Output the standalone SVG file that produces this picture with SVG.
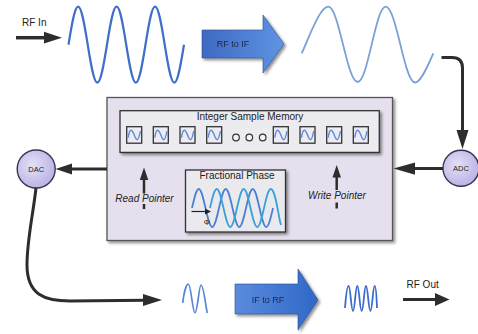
<svg xmlns="http://www.w3.org/2000/svg" xmlns:xlink="http://www.w3.org/1999/xlink" width="478" height="334" viewBox="0 0 478 334">
<defs>
<style>
text{font-family:"Liberation Sans",Arial,sans-serif;fill:#222}
.lbl{font-size:10px}
.arr{font-size:9px;fill:#1c2550;text-anchor:middle}
.ptr{font-size:10px;font-style:italic}
.conv{font-size:7.5px;text-anchor:middle}
.wire{fill:none;stroke:#2b2e2b;stroke-width:3}
.head{fill:#2b2e2b}
.box{stroke:#333;stroke-width:1.3}
.cellw{fill:none;stroke:#5b8ad6;stroke-width:1.4}
</style>
<linearGradient id="gRF" x1="0" y1="0" x2="1" y2="0">
<stop offset="0" stop-color="#3e69c2"/><stop offset="1" stop-color="#5e94e2"/>
</linearGradient>
<linearGradient id="gIF" x1="0" y1="0" x2="1" y2="0">
<stop offset="0" stop-color="#5a8bdc"/><stop offset="1" stop-color="#2f68c8"/>
</linearGradient>
<radialGradient id="gConv" cx="0.4" cy="0.4" r="0.65">
<stop offset="0" stop-color="#e4e0f8"/><stop offset="1" stop-color="#b9b0e2"/>
</radialGradient>
<filter id="sh" x="-10%" y="-10%" width="130%" height="130%">
<feGaussianBlur in="SourceAlpha" stdDeviation="1.6"/>
<feOffset dx="1.5" dy="2" result="o"/>
<feComponentTransfer><feFuncA type="linear" slope="0.45"/></feComponentTransfer>
<feMerge><feMergeNode/><feMergeNode in="SourceGraphic"/></feMerge>
</filter>
<g id="cell">
<rect x="0" y="0" width="15" height="16.5" fill="#ececf2" class="box"/>
<path class="cellw" d="M1.5,11 C2.2,5.5 3.2,3.5 4.3,3.5 C5.6,3.5 6.6,6 7.5,8.2 C8.4,10.5 9.3,13 10.5,13 C11.8,13 13,8 13.7,4.5"/>
</g>
</defs>
<rect width="478" height="334" fill="#ffffff"/>

<g id="rf-in">
<text class="lbl" x="22" y="25.5">RF In</text>
</g>

<g id="wave-rf">
<path fill="none" stroke="#3f6fc8" stroke-width="2.2" d="M68.5,44.7 C71.6,25.7 74.6,6.7 78.1,6.7 C85.1,6.7 90.35,82.7 97.35,82.7 C104.35,82.7 109.6,6.7 116.6,6.7 C123.6,6.7 128.85,82.7 135.85,82.7 C142.85,82.7 148.1,6.7 155.1,6.7 C162.1,6.7 167.35,82.7 174.35,82.7 C177.85,82.7 180.9,63.7 184,44.7"/>
</g>

<g id="rf-to-if" filter="url(#sh)">
<path fill="url(#gRF)" stroke="#2f4f8f" stroke-width="0.6" d="M202,30 L263,30 L263,15 L284,44 L263,73 L263,58 L202,58 Z"/>
<text class="arr" x="233" y="47">RF to IF</text>
</g>

<g id="wave-if">
<path fill="none" stroke="#7aa0d8" stroke-width="1.8" d="M301.7,53.3 C310,35 320,6.7 328.3,6.7 C339,6.7 347,82 357.7,82 C367.9,82 375.5,6.7 385.7,6.7 C396.4,6.7 404.3,82.5 415,82.5 C421,82.5 428,65 433.3,53.3"/>
</g>

<g id="memory">
<rect x="107" y="97.5" width="285.5" height="143" fill="#e6e0ee" stroke="#555" stroke-width="1.3" filter="url(#sh)"/>
</g>

<g id="sample-memory">
<rect x="120" y="110.7" width="259.3" height="41.7" fill="#ececf0" class="box" filter="url(#sh)"/>
<text class="lbl" x="250" y="120" text-anchor="middle">Integer Sample Memory</text>
<use xlink:href="#cell" x="126.7" y="126.7"/>
<use xlink:href="#cell" x="153.3" y="126.7"/>
<use xlink:href="#cell" x="180" y="126.7"/>
<use xlink:href="#cell" x="206.7" y="126.7"/>
<circle cx="236" cy="137.5" r="3.3" fill="#f4f4f6" stroke="#333" stroke-width="1.2"/>
<circle cx="249.3" cy="137.5" r="3.3" fill="#f4f4f6" stroke="#333" stroke-width="1.2"/>
<circle cx="262.7" cy="137.5" r="3.3" fill="#f4f4f6" stroke="#333" stroke-width="1.2"/>
<use xlink:href="#cell" x="273.3" y="126.7"/>
<use xlink:href="#cell" x="300" y="126.7"/>
<use xlink:href="#cell" x="326.7" y="126.7"/>
<use xlink:href="#cell" x="353.3" y="126.7"/>
</g>

<g id="fractional-phase">
<rect x="185.5" y="170" width="100" height="62" fill="#e9e9ee" class="box" filter="url(#sh)"/>
<text class="lbl" x="237" y="179" text-anchor="middle">Fractional Phase</text>
<path fill="none" stroke="#4b80d0" stroke-width="1.8" d="M192,208 C194.15,198.5 196.29,189 198.75,189 C203.67,189 207.33,227 212.25,227 C217.17,227 220.83,189 225.75,189 C230.67,189 234.33,227 239.25,227 C244.17,227 247.83,189 252.75,189 C257.67,189 261.33,227 266.25,227 C268.71,227 270.85,217.5 273,208"/>
<path fill="none" stroke="#3aa0d8" stroke-width="1.8" d="M210,208 C212.15,198.5 214.29,189 216.75,189 C221.67,189 225.33,227 230.25,227 C235.17,227 238.83,189 243.75,189 C248.67,189 252.33,227 257.25,227 C262.17,227 265.83,189 270.75,189 C275.67,189 278.5,218 281,225"/>
<path fill="none" stroke="#222" stroke-width="1.2" d="M191.5,211.5 L206,211.5"/>
<path fill="#222" d="M205,208.5 L211,211.5 L205,214.5 Z"/>
<text x="207" y="224.5" style="font-size:8px" text-anchor="middle">Φ</text>
</g>

<g id="read-pointer">
<text class="ptr" x="144.5" y="201.5" text-anchor="middle">Read Pointer</text>
</g>

<g id="write-pointer">
<text class="ptr" x="337" y="198.5" text-anchor="middle">Write Pointer</text>
</g>

<g id="dac">
<circle cx="36.2" cy="169" r="19" fill="url(#gConv)" stroke="#3a3355" stroke-width="1.4"/>
<text class="conv" x="36.2" y="171.8">DAC</text>
</g>

<g id="adc">
<circle cx="461" cy="168.3" r="18" fill="url(#gConv)" stroke="#3a3355" stroke-width="1.4"/>
<text class="conv" x="461" y="171">ADC</text>
</g>

<g id="wave-if-out">
<path fill="none" stroke="#5b86d6" stroke-width="1.7" d="M182.7,303 C184,292 186.5,284 188.3,284 C191,284 192.5,312.7 195,312.7 C197.5,312.7 199,285 201,285 C203.5,285 205.5,305 207.3,313"/>
</g>

<g id="if-to-rf" filter="url(#sh)">
<path fill="url(#gIF)" stroke="#2f4f8f" stroke-width="0.6" d="M235,284 L298,284 L298,269 L318,300 L298,330 L298,314 L235,314 Z"/>
<text class="arr" x="268" y="302.5">IF to RF</text>
</g>

<g id="wave-rf-out">
<path fill="none" stroke="#3a6ccc" stroke-width="1.8" d="M345,308 C346,295 347,286 348.6,286 C350.6,286 351,311 353,311 C355,311 355.3,286 357.3,286 C359.3,286 359.7,311 361.7,311 C363.7,311 364,286 366,286 C368,286 368.4,311 370.4,311 C372.4,311 372.7,286 374.7,286 C376.2,286 376.7,300 377,308"/>
</g>

<g id="rf-out">
<text class="lbl" x="406.5" y="287.5">RF Out</text>
</g>

<g id="connectors">
<path class="wire" style="stroke-width:3.5" d="M16,37.7 L46,37.7"/>
<path class="head" d="M44,31.8 L62,37.7 L44,43.6 Z"/>
<path class="wire" d="M441.5,57.5 L452,57.5 Q462.5,57.5 462.5,68 L462.5,132"/>
<path class="head" d="M456.5,130 L462.5,149 L468.5,130 Z"/>
<path class="wire" d="M443,168.5 L413,168.5"/>
<path class="head" d="M415,162.5 L393.5,168.5 L415,174.8 Z"/>
<path class="wire" d="M107,169 L70,169"/>
<path class="head" d="M72,163.5 L55.5,169 L72,174.5 Z"/>
<path class="wire" d="M36,188 C33,215 27,240 27,265 C27,295 45,301 70,301 L145,300.3"/>
<path class="head" d="M143,294 L162,300 L143,306 Z"/>
<path class="wire" d="M403,299.5 L437,299.5"/>
<path class="head" d="M435,293 L449.5,299.5 L435,306 Z"/>
<path class="wire" style="stroke-width:2.5" d="M144,179 L144,193.5 M144,204 L144,209"/>
<path class="head" d="M139.8,180 L144,167.5 L148.3,180 Z"/>
<path class="wire" style="stroke-width:2.5" d="M336.7,177 L336.7,190 M336.7,202.5 L336.7,208.5"/>
<path class="head" d="M332.5,177.5 L336.7,165 L341,177.5 Z"/>
</g>
</svg>
